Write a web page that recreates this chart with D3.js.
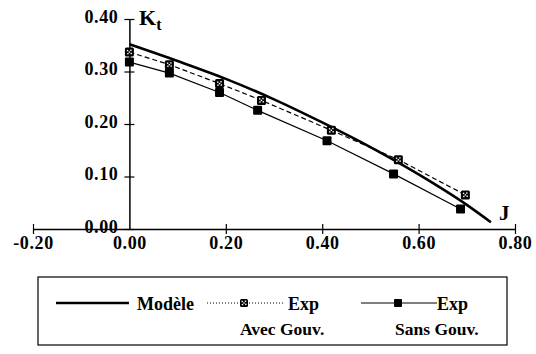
<!DOCTYPE html>
<html>
<head>
<meta charset="utf-8">
<script src="https://cdn.jsdelivr.net/npm/d3@7"></script>
</head>
<body style="margin:0;background:#fff">
<svg id="chart" width="536" height="354"></svg>
<script>
// model curve
let modelJ  = [0, 0.1, 0.2, 0.3, 0.4, 0.5, 0.6, 0.7, 0.75]
let modelKt = [0.352, 0.320, 0.286, 0.247, 0.203, 0.156, 0.104, 0.046, 0.013]
// experiment with governor
let avecJ  = [0.00, 0.083, 0.187, 0.274, 0.419, 0.558, 0.697]
let avecKt = [0.337, 0.313, 0.277, 0.245, 0.188, 0.132, 0.065]
// experiment without governor
let sansJ  = [0.00, 0.083, 0.187, 0.266, 0.410, 0.548, 0.687]
let sansKt = [0.318, 0.297, 0.260, 0.226, 0.168, 0.105, 0.038]

let xTicks = [-0.2, 0, 0.2, 0.4, 0.6, 0.8]
let yTicks = [0, 0.1, 0.2, 0.3, 0.4]

const FONT = "Liberation Serif"

let svg = d3.select("#chart")

let x = d3.scaleLinear().domain([-0.2, 0.8]).range([33, 515])
let y = d3.scaleLinear().domain([0, 0.4]).range([229, 19])

let fmt = d => d.toFixed(2)

let label = (sel, size) => sel.attr("font-family", FONT).attr("font-weight", "bold")
                              .attr("font-size", size).attr("fill", "#000")

// y axis
let gy = svg.append("g")
            .attr("transform", "translate(" + x(0) + ",0)")
            .call(d3.axisLeft(y).tickValues(yTicks).tickFormat(fmt).tickSizeOuter(0))
gy.select(".domain").attr("stroke-width", 1.5)
gy.selectAll(".tick line").attr("x1", 5).attr("x2", -5).attr("stroke-width", 1.2)
gy.selectAll(".tick text")
    .call(label, 18)
    .attr("x", -11).attr("dy", null).attr("y", 3)
    .attr("letter-spacing", 0.6)

// x axis
let gx = svg.append("g")
            .attr("transform", "translate(0," + y(0) + ")")
            .call(d3.axisBottom(x).tickValues(xTicks).tickFormat(fmt).tickSizeOuter(0))
gx.select(".domain").attr("stroke-width", 1.5)
gx.selectAll(".tick line").attr("y1", -5).attr("y2", 5).attr("stroke-width", 1.2)
gx.selectAll(".tick text")
    .call(label, 18)
    .attr("y", 20).attr("dy", null)
    .attr("letter-spacing", 0.6)
gx.selectAll(".tick").filter(d => d === 0).select("line").remove()

// axis titles
let kt = svg.append("text").attr("x", 139).attr("y", 25).call(label, 22)
kt.append("tspan").text("K")
kt.append("tspan").attr("dy", 5).attr("font-size", 16).text("t")
svg.append("text").attr("x", 499).attr("y", 220).call(label, 21).text("J")

// lines
let line = d3.line().x(d => x(d[0])).y(d => y(d[1]))

svg.append("path")
    .datum(d3.zip(sansJ, sansKt))
    .attr("d", line)
    .attr("fill", "none").attr("stroke", "#000").attr("stroke-width", 1.2)

svg.append("path")
    .datum(d3.zip(avecJ, avecKt))
    .attr("d", line)
    .attr("fill", "none").attr("stroke", "#000").attr("stroke-width", 1.2)
    .attr("stroke-dasharray", "5,3")

svg.append("path")
    .datum(d3.zip(modelJ, modelKt))
    .attr("d", d3.line().x(d => x(d[0])).y(d => y(d[1])).curve(d3.curveMonotoneX))
    .attr("fill", "none").attr("stroke", "#000").attr("stroke-width", 2.6)
    .attr("stroke-linejoin", "round")

// markers
let drawAvec = (g, cx, cy, s) => {
    g.append("rect").attr("x", cx - s / 2).attr("y", cy - s / 2)
        .attr("width", s).attr("height", s).attr("rx", 1.5).attr("fill", "#000")
    ;[[-1.8, -1.5], [1.5, -1.8], [-1.5, 1.6], [1.8, 1.4], [0, 0]].forEach(p => {
        g.append("rect").attr("x", cx + p[0] - 0.7).attr("y", cy + p[1] - 0.7)
            .attr("width", 1.4).attr("height", 1.4).attr("fill", "#fff")
    })
}

svg.append("g").selectAll("rect")
    .data(d3.zip(sansJ, sansKt))
    .enter()
    .append("rect")
    .attr("x", d => x(d[0]) - 4.5)
    .attr("y", d => y(d[1]) - 4.5)
    .attr("width", 9).attr("height", 9).attr("rx", 1)
    .attr("fill", "#000")

let gAvec = svg.append("g")
d3.zip(avecJ, avecKt).forEach(d => drawAvec(gAvec, x(d[0]), y(d[1]), 9))

// legend
let lg = svg.append("g")
lg.append("rect").attr("x", 38).attr("y", 277).attr("width", 469).attr("height", 68)
    .attr("fill", "none").attr("stroke", "#000").attr("stroke-width", 1.2)

lg.append("line").attr("x1", 56).attr("x2", 129).attr("y1", 303).attr("y2", 303)
    .attr("stroke", "#000").attr("stroke-width", 2.6)
lg.append("text").attr("x", 137).attr("y", 310).call(label, 18).text("Modèle")

lg.append("line").attr("x1", 207).attr("x2", 283).attr("y1", 303).attr("y2", 303)
    .attr("stroke", "#000").attr("stroke-width", 1).attr("stroke-dasharray", "1,2")
drawAvec(lg, 244, 303, 8)
lg.append("text").attr("x", 288).attr("y", 310).call(label, 18).text("Exp")
lg.append("text").attr("x", 240).attr("y", 335).call(label, 17.5).text("Avec Gouv.")

lg.append("line").attr("x1", 361).attr("x2", 437).attr("y1", 303).attr("y2", 303)
    .attr("stroke", "#000").attr("stroke-width", 1.2)
lg.append("rect").attr("x", 394).attr("y", 299).attr("width", 8).attr("height", 8)
    .attr("rx", 1).attr("fill", "#000")
lg.append("text").attr("x", 437).attr("y", 310).call(label, 18).text("Exp")
lg.append("text").attr("x", 395).attr("y", 335).call(label, 17.5).text("Sans Gouv.")
</script>
</body>
</html>
